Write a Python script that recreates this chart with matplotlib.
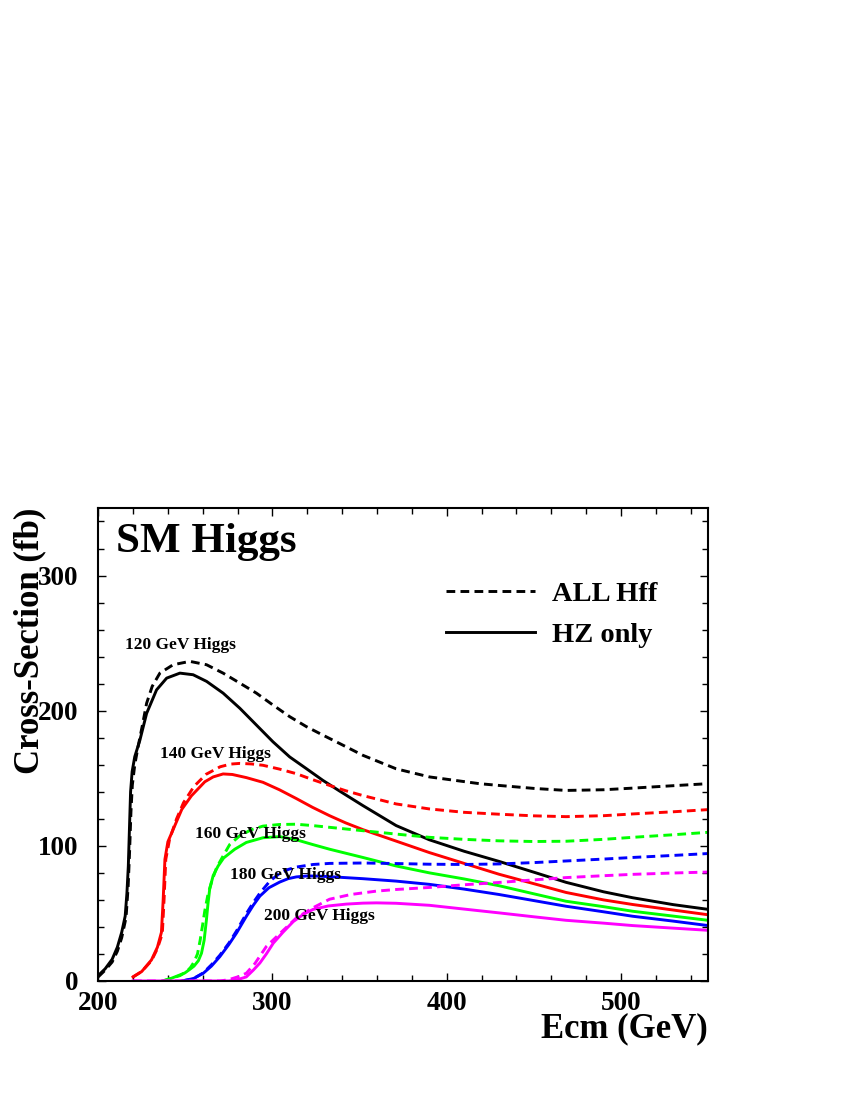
import matplotlib
matplotlib.use("Agg")
import matplotlib.pyplot as plt
from matplotlib.lines import Line2D
from matplotlib.ticker import MultipleLocator

plt.rcParams['font.family'] = ['Liberation Serif', 'DejaVu Serif']
plt.rcParams['font.weight'] = 'bold'

# 120 GeV
hz120_x = [200, 204, 208, 211, 213.5, 215.5, 216.5, 217.3, 218, 218.6, 219.5, 221, 223.9, 227.8, 233.5,
           239.3, 246.9, 254.5, 262.2, 271.7, 281.3, 290.8, 300.3, 309.9, 319.5, 329, 338.6, 351.9,
           371, 390, 410, 430, 450, 468.5, 490, 506.7, 530, 550]
hz120_y = [4, 9, 16, 25, 36, 48, 65, 85, 115, 140, 155, 166, 178, 198, 215.4,
           224.1, 227.8, 226.6, 221.7, 213, 201.8, 189.4, 177, 165.8, 157.1, 148.4, 140.5, 129.8,
           115, 104.5, 96, 88.5, 80.5, 73, 66, 61.6, 56.5, 53]
all120_x = [200, 204, 208, 211, 213.5, 216, 217.2, 218, 218.8, 219.6, 221, 223, 225.5, 227.8, 231,
            235.4, 243, 252.6, 262.2, 271.7, 281.3, 290.8, 300.3, 309.9, 319.5, 329, 338.6, 351.9,
            371, 390.1, 418.8, 430, 450, 468.5, 490, 506.7, 530, 550]
all120_y = [3, 8, 14, 22, 32, 47, 70, 95, 125, 145, 160, 174, 190, 205.5, 218,
            227.8, 234, 236.5, 234, 227.8, 220.4, 213, 204.2, 195.6, 188.2, 181.9, 175.7, 167,
            157, 151, 146, 144.7, 142.5, 141, 141.5, 142.7, 144.5, 146]

# 140 GeV
hz140_x = [220, 225, 230.6, 234, 236.3, 237.3, 238.3, 240, 244, 248, 253.5, 261.2, 266, 271.7, 277,
           285, 294.6, 304, 313.7, 323, 332.8, 342, 351.9, 371, 390.1, 410, 430, 450, 468.5, 490,
           506.7, 530, 550]
hz140_y = [3, 7, 15.6, 25, 36, 60, 90, 103, 115, 127, 137, 147.4, 151, 153.2, 152.8,
           150.5, 147, 141.5, 135, 128.5, 122.3, 117, 112, 103.5, 95, 87, 79, 72, 65.5, 60,
           56.6, 52.5, 49]
all140_x = [220, 225, 230.6, 234, 236.8, 237.8, 238.8, 241, 245, 249, 255, 262, 270, 276, 281.3,
            288, 294.6, 304, 313.7, 323, 332.8, 342, 351.9, 371, 390.1, 410, 430, 450, 468.5, 490,
            506.7, 530, 550]
all140_y = [3, 7, 15, 24, 35, 60, 90, 105, 120, 132, 144, 153, 158.5, 160.5, 161,
            160.6, 159.6, 156.8, 153.4, 149, 144.7, 140.8, 137.2, 131, 127.3, 124.8, 123.4, 122.2, 121.6, 122.3,
            123.6, 125.2, 126.8]

# 160 GeV
hz160_x = [237, 242, 246, 249.8, 253, 255, 257.5, 259.3, 260.8, 262.1, 263, 264, 266, 268.8, 272,
           278.4, 285, 294.6, 304.2, 313.7, 323, 332.8, 351.9, 371, 390.1, 410, 430, 450, 468.5,
           490, 506.7, 530, 550]
hz160_y = [0, 2, 4, 6, 9, 11, 15, 20.6, 30, 45, 57, 68, 78, 85, 91,
           97.5, 102.5, 106, 106.8, 104.5, 101, 97.5, 91.4, 85.1, 80, 75.5, 70.5, 64.5, 59,
           55, 51.6, 48, 44.9]
all160_x = [237, 242, 247, 250.8, 253, 255, 257, 258.5, 260, 261.2, 263, 265, 268, 271.7, 275.5,
            281.3, 288, 294.6, 304, 313.7, 323, 332.8, 351.9, 371, 390.1, 410, 430, 450, 468.5,
            490, 506.7, 530, 550]
all160_y = [0, 2, 4, 7, 10, 14, 20, 30, 42, 52, 64, 73, 84, 92.5, 101,
            107.5, 112, 114.6, 115.8, 116, 115, 113.7, 111.2, 108.7, 106.3, 104.8, 103.7, 103.2, 103.4,
            104.8, 106.3, 108.2, 110]

# 180 GeV
hz180_x = [248, 252, 255, 260.3, 265, 269.8, 275, 279.4, 285.1, 289, 292.8, 298, 304.2, 309, 313.7,
           319.5, 326, 332.8, 351.9, 371, 390.1, 410, 430, 450, 468.5, 490, 506.7, 530, 550]
hz180_y = [0, 1, 2, 5.7, 11, 18, 27, 35.5, 48, 56, 62.8, 69, 73.2, 75.7, 77,
           77.7, 77.6, 77.2, 75.7, 73.9, 71.5, 68, 64, 59.5, 55.3, 51.2, 47.9, 44.3, 41]
all180_x = [248, 252, 255, 260.3, 265, 269.8, 275, 279.4, 285.1, 289, 292.8, 298.6, 304, 309, 313.7,
            323.3, 332.8, 351.9, 371, 390.1, 410, 430, 450, 468.5, 490, 506.7, 530, 550]
all180_y = [0, 1, 2, 6, 12, 19, 28, 37, 50, 58, 65, 74, 79.5, 82.5, 84.3,
            86.2, 87, 87.3, 86.9, 86.4, 86.2, 86.6, 87.6, 88.8, 90.2, 91.4, 92.9, 94.3]

# 200 GeV
hz200_x = [220, 275, 280, 285, 289, 292.8, 296.5, 300.5, 306, 312, 318, 323.4, 332, 342.5, 352,
           359.7, 371, 390.1, 410, 430, 450, 468.5, 490, 506.7, 530, 550]
hz200_y = [0, 0, 1, 3, 8, 13.3, 20, 28, 36, 44, 49.5, 53, 55.5, 56.9, 57.6,
           57.8, 57.5, 56, 53.2, 50.4, 47.5, 44.9, 42.8, 41, 39.1, 37.5]
all200_x = [220, 270, 275, 280, 285, 290, 296.5, 305, 313.7, 323, 332.8, 345, 359.7,
            371, 390.1, 410, 430, 450, 468.5, 490, 506.7, 530, 550]
all200_y = [0, 0, 1, 3, 5.7, 13, 25.5, 36, 46.6, 54, 60.5, 64, 66.5,
            67.7, 69.2, 71.2, 72.9, 74.8, 76.5, 77.9, 78.9, 79.9, 80.6]

masses = ["120", "140", "160", "180", "200"]
colors = ["black", "#ff0000", "#00ff00", "#0000ff", "#ff00ff"]
label_pos = [(215.4, 246), (235.4, 165.2), (255.5, 105.5), (275.4, 75.2), (295, 45.4)]

hz = [(hz120_x, hz120_y), (hz140_x, hz140_y), (hz160_x, hz160_y), (hz180_x, hz180_y), (hz200_x, hz200_y)]
alls = [(all120_x, all120_y), (all140_x, all140_y), (all160_x, all160_y), (all180_x, all180_y), (all200_x, all200_y)]

fig = plt.figure(figsize=(8.5, 11), dpi=100)
ax = fig.add_axes([0.1155, 0.1082, 0.7175, 0.43])

lw = 2.1
dash = (3.0, 1.8)
for (hx, hy), (ax_, ay), c in zip(hz, alls, colors):
    ax.plot(ax_, ay, color=c, lw=lw, linestyle=(0, dash))
    ax.plot(hx, hy, color=c, lw=lw)

for m, (lx, ly) in zip(masses, label_pos):
    ax.text(lx, ly, m + " GeV Higgs", fontsize=12.5, fontweight='bold', ha='left', va='baseline', zorder=5)

ax.text(0.029, 0.907, "SM Higgs", transform=ax.transAxes, fontsize=31, fontweight='bold',
        ha='left', va='baseline')

handles = [Line2D([], [], color='black', lw=lw, linestyle=(0, dash)),
           Line2D([], [], color='black', lw=lw)]
ax.legend(handles, ["ALL Hff", "HZ only"], loc='upper left', bbox_to_anchor=(0.571, 0.846),
          frameon=False, borderpad=0, borderaxespad=0, handlelength=3.1, handletextpad=0.62,
          labelspacing=0.53, prop={'family': 'Liberation Serif', 'weight': 'bold', 'size': 20.5})

ax.set_xlim(200, 550)
ax.set_ylim(0, 350)
ax.xaxis.set_major_locator(MultipleLocator(100))
ax.xaxis.set_minor_locator(MultipleLocator(20))
ax.yaxis.set_major_locator(MultipleLocator(100))
ax.yaxis.set_minor_locator(MultipleLocator(20))
ax.tick_params(which='both', direction='in', top=True, right=True, width=1.0)
ax.tick_params(which='major', length=6)
ax.tick_params(which='minor', length=4)
ax.tick_params(axis='y', which='major', pad=14, labelsize=19.5)
ax.tick_params(axis='x', which='major', pad=7, labelsize=19.5)
for lab in ax.get_xticklabels() + ax.get_yticklabels():
    lab.set_fontweight('bold')
for s in ax.spines.values():
    s.set_linewidth(1.5)

ax.set_xlabel("Ecm (GeV)", fontsize=25, fontweight='bold', loc='right')
ax.set_ylabel("Cross-Section (fb)", fontsize=25, fontweight='bold', loc='top')
ax.xaxis.set_label_coords(1.0, -0.066)
ax.yaxis.set_label_coords(-0.085, 1.0)

fig.savefig("out.png", dpi=100)
